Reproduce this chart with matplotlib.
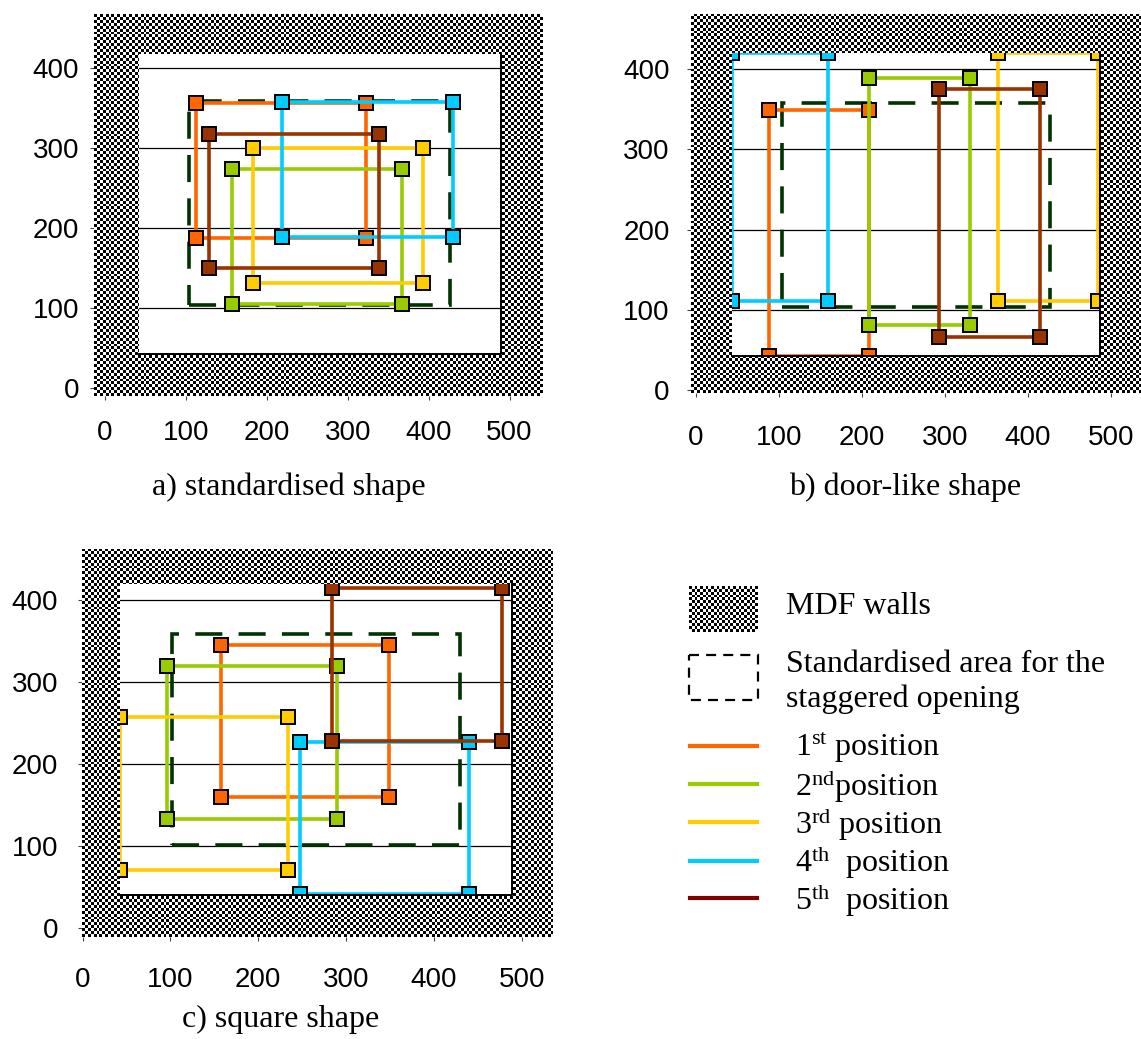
import numpy as np
import matplotlib
matplotlib.use("Agg")
import matplotlib.pyplot as plt
from matplotlib.path import Path
from matplotlib.patches import Rectangle

plt.rcParams['mathtext.fontset'] = 'custom'
plt.rcParams['mathtext.rm'] = 'Liberation Serif'
plt.rcParams['mathtext.it'] = 'Liberation Serif:italic'
plt.rcParams['mathtext.bf'] = 'Liberation Serif:bold'

# ---------------- data ----------------
positions = ['1st', '2nd', '3rd', '4th', '5th']
colors = ['#FF6600', '#99CC00', '#FFCC00', '#00CCFF', '#993300']
legend_colors = ['#FF6600', '#99CC00', '#FFCC00', '#00CCFF', '#800000']
legend_labels = [r'1$^{\mathrm{st}}$ position', r'2$^{\mathrm{nd}}$position',
                 r'3$^{\mathrm{rd}}$ position', r'4$^{\mathrm{th}}$  position',
                 r'5$^{\mathrm{th}}$  position']
x_ticks = [0, 100, 200, 300, 400, 500]
y_ticks = [0, 100, 200, 300, 400]

# a) standardised shape
a_x_left = [113, 157, 183, 219, 129]
a_x_right = [323, 367, 393, 430, 339]
a_y_bottom = [187, 105, 131, 189, 150]
a_y_top = [356, 274, 300, 358, 318]
a_opening = [42, 490, 42, 418]      # white area inside MDF walls
a_std_area = [104, 427, 104, 359]   # dashed standardised area

# b) door-like shape
b_x_left = [88, 209, 364, 43, 293]
b_x_right = [209, 330, 484, 159, 414]
b_y_bottom = [42, 81, 111, 111, 66]
b_y_top = [349, 389, 420, 420, 375]
b_opening = [43, 487, 42, 420]
b_std_area = [103, 427, 104, 358]

# c) square shape
c_x_left = [157, 96, 43, 247, 284]
c_x_right = [349, 290, 234, 440, 478]
c_y_bottom = [160, 133, 71, 42, 228]
c_y_top = [345, 319, 257, 227, 414]
c_opening = [42, 489, 41, 419]
c_std_area = [102, 430, 102, 358]

W, H = 1141, 1039
fig = plt.figure(figsize=(W / 100, H / 100), dpi=100)


def checker(nx, ny):
    return (np.add.outer(np.arange(ny), np.arange(nx)) % 2).astype(float)


def panel(box, xlim, ylim, xl, xr, yb, yt, opening, std, xpad, ypad):
    l, t, r, b = box
    ax = fig.add_axes([l / W, 1 - b / H, (r - l) / W, (b - t) / H])
    ax.set_facecolor('white')
    ax.set_yticks(y_ticks)
    ax.set_xticks(x_ticks)
    ax.yaxis.grid(True, color='black', lw=0.9)
    ax.set_axisbelow(True)
    # standardised area
    ax.add_patch(Rectangle((std[0], std[2]), std[1] - std[0], std[3] - std[2],
                           fill=False, ec='#003300', lw=2.6,
                           ls=(0, (7.5, 4.5)), zorder=1.8))
    # positions
    for i in range(len(xl)):
        xs = [xl[i], xr[i], xr[i], xl[i], xl[i]]
        ys = [yt[i], yt[i], yb[i], yb[i], yt[i]]
        ax.plot(xs, ys, color=colors[i], lw=2.6, marker='s', ms=10.5,
                mec='black', mew=1.4, markevery=[0, 1, 2, 3], zorder=3 + i * 0.1)
    # MDF walls (checker frame over everything outside the opening)
    nx = int((r - l) / 2.9)
    ny = int((b - t) / 2.9)
    im = ax.imshow(checker(nx, ny), cmap='gray', vmin=0, vmax=1,
                   extent=(xlim[0], xlim[1], ylim[0], ylim[1]), origin='lower',
                   interpolation='nearest', aspect='auto', zorder=5)
    ox0, ox1, oy0, oy1 = opening
    verts = [(xlim[0], ylim[0]), (xlim[1], ylim[0]), (xlim[1], ylim[1]),
             (xlim[0], ylim[1]), (xlim[0], ylim[0]),
             (ox0, oy0), (ox0, oy1), (ox1, oy1), (ox1, oy0), (ox0, oy0)]
    codes = [Path.MOVETO, Path.LINETO, Path.LINETO, Path.LINETO, Path.CLOSEPOLY] * 2
    im.set_clip_path(Path(verts, codes), ax.transData)
    ax.plot([ox0, ox1, ox1], [oy0, oy0, oy1], color='black', lw=1.4, zorder=6,
            solid_capstyle='projecting')
    ax.set_xlim(xlim)
    ax.set_ylim(ylim)
    for s in ax.spines.values():
        s.set_visible(False)
    ax.tick_params(direction='out', length=3, width=0.8, color='#444444',
                   labelsize=20)
    ax.tick_params(axis='x', pad=xpad)
    ax.tick_params(axis='y', pad=ypad)
    for lab in ax.get_xticklabels() + ax.get_yticklabels():
        lab.set_family('Liberation Sans')
    return ax


panel((94.3, 14, 543, 396), (-13.2, 541.4), (-10, 467.5),
      a_x_left, a_x_right, a_y_bottom, a_y_top, a_opening, a_std_area, 14, 8)
panel((690.7, 14, 1141, 393), (-6.4, 536.1), (-3.7, 468.8),
      b_x_left, b_x_right, b_y_bottom, b_y_top, b_opening, b_std_area, 20, 12)
panel((81.7, 548.5, 553, 936.7), (-1.1, 535.6), (-10.2, 462.6),
      c_x_left, c_x_right, c_y_bottom, c_y_top, c_opening, c_std_area, 18.5, 14)

# ---------------- overlay: captions and legend ----------------
ov = fig.add_axes([0, 0, 1, 1])
ov.axis('off')
serif = 'Liberation Serif'
ov.text(289, 487, 'a) standardised shape', ha='center', va='center',
        fontsize=23, family=serif)
ov.text(905, 487, 'b) door-like shape', ha='center', va='center',
        fontsize=23, family=serif)
ov.text(281, 1019, 'c) square shape', ha='center', va='center',
        fontsize=23, family=serif)

ov.imshow(checker(25, 16), cmap='gray', vmin=0, vmax=1,
          extent=(689, 758, 632, 586), interpolation='nearest', aspect='auto')
ov.text(786, 607, 'MDF walls', ha='left', va='center', fontsize=23, family=serif)
ov.add_patch(Rectangle((689, 655), 69, 45, fill=False, ec='black', lw=1.6,
                       ls=(0, (4.5, 3.2))))
ov.text(786, 682, 'Standardised area for the\nstaggered opening', ha='left',
        va='center', fontsize=23, family=serif, linespacing=1.2)
leg_y = [745.7, 784, 822.3, 860.7, 898.3]
for yy, c, lab in zip(leg_y, legend_colors, legend_labels):
    ov.plot([690, 757], [yy, yy], color=c, lw=3)
    ov.text(795, yy + 2, lab, ha='left', va='center', fontsize=23, family=serif)
ov.set_xlim(0, W)
ov.set_ylim(H, 0)

fig.savefig('out.png', dpi=100)
